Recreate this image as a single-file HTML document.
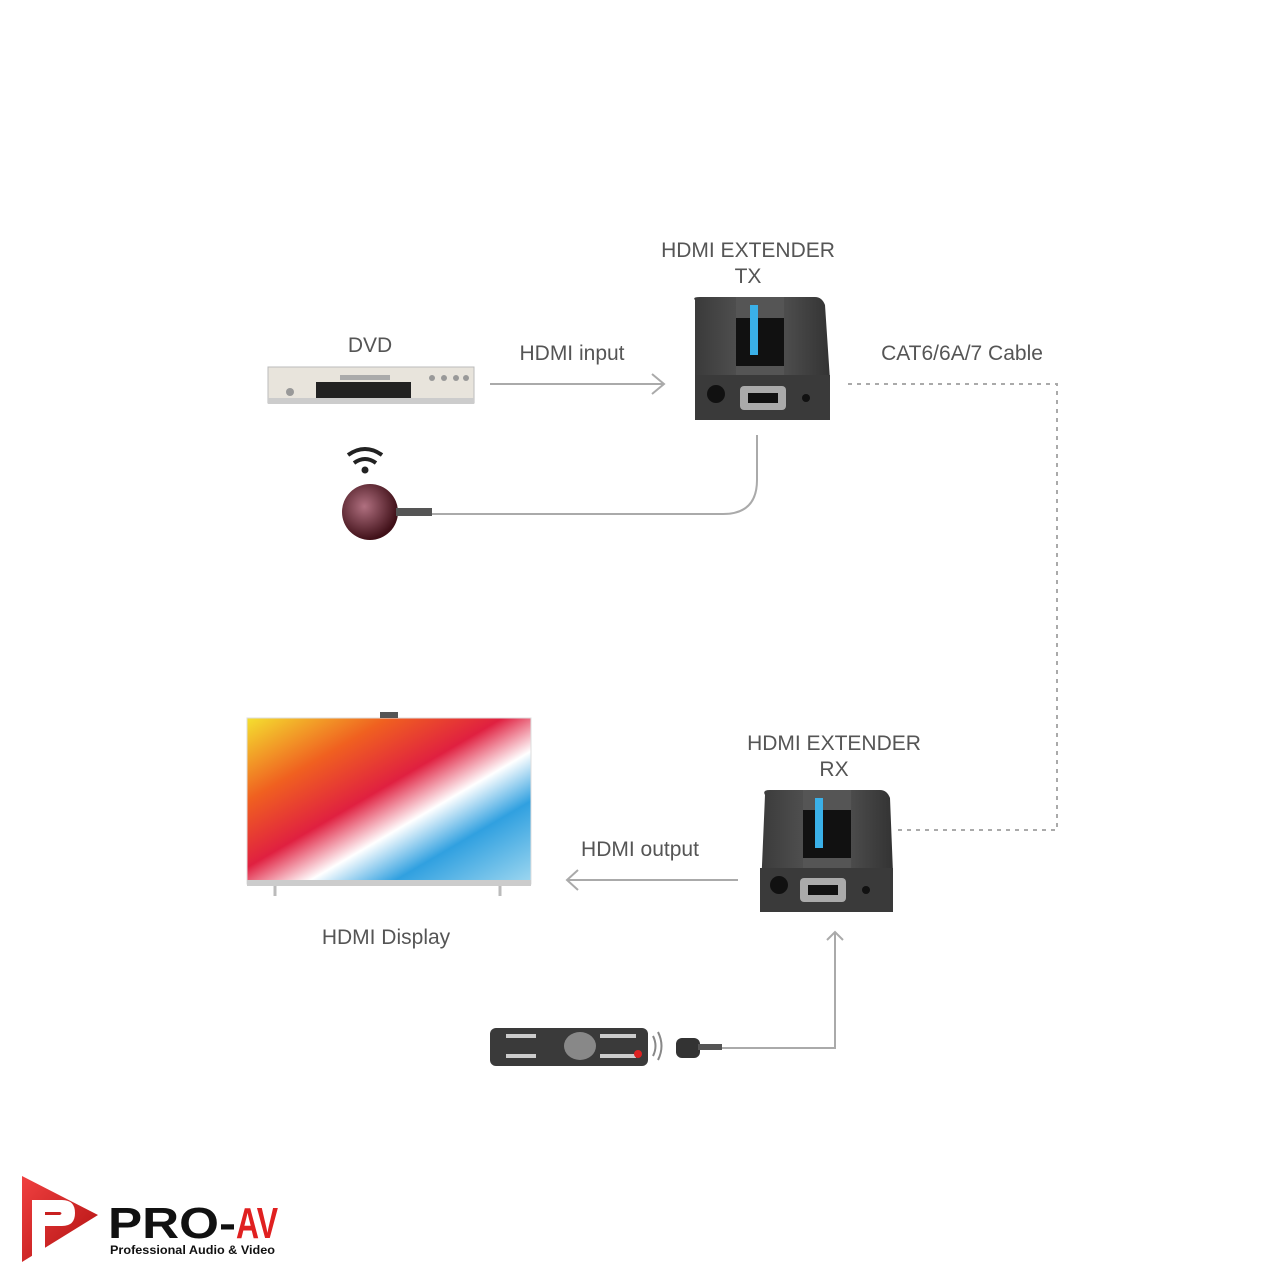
<!DOCTYPE html>
<html><head><meta charset="utf-8"><style>
html,body{margin:0;padding:0;background:#fff;width:1280px;height:1280px;overflow:hidden}
svg{position:absolute;left:0;top:0}
text{font-family:"Liberation Sans",sans-serif}
</style></head><body>
<svg width="1280" height="1280" viewBox="0 0 1280 1280">
<defs>
<linearGradient id="dev" x1="0" y1="0" x2="1" y2="0"><stop offset="0" stop-color="#3a3a3a"/><stop offset="0.5" stop-color="#5a5a5a"/><stop offset="1" stop-color="#333"/></linearGradient>
<linearGradient id="tv" x1="0" y1="0" x2="1" y2="1"><stop offset="0" stop-color="#f4e030"/><stop offset="0.25" stop-color="#f06020"/><stop offset="0.45" stop-color="#e02040"/><stop offset="0.6" stop-color="#fff"/><stop offset="0.75" stop-color="#30a0e0"/><stop offset="1" stop-color="#a0d8f0"/></linearGradient>
<linearGradient id="logo" x1="0" y1="0" x2="1" y2="1"><stop offset="0" stop-color="#f04040"/><stop offset="1" stop-color="#b01010"/></linearGradient>
<radialGradient id="ball" cx="0.4" cy="0.4" r="0.6"><stop offset="0" stop-color="#b07080"/><stop offset="1" stop-color="#401018"/></radialGradient>
</defs>
<!-- labels -->
<g fill="#555" font-size="21">
<text x="748" y="257" text-anchor="middle">HDMI EXTENDER</text>
<text x="748" y="283" text-anchor="middle">TX</text>
<text x="370" y="352" text-anchor="middle">DVD</text>
<text x="572" y="360" text-anchor="middle">HDMI input</text>
<text x="962" y="360" text-anchor="middle">CAT6/6A/7 Cable</text>
<text x="834" y="750" text-anchor="middle">HDMI EXTENDER</text>
<text x="834" y="776" text-anchor="middle">RX</text>
<text x="640" y="856" text-anchor="middle">HDMI output</text>
<text x="386" y="944" text-anchor="middle">HDMI Display</text>
</g>
<!-- connectors -->
<g stroke="#aaa" stroke-width="2" fill="none">
<line x1="490" y1="384" x2="664" y2="384"/><polyline points="652,374 664,384 652,394"/>
<path d="M757 435 V480 Q757 514 723 514 H430"/>
<line x1="738" y1="880" x2="567" y2="880"/><polyline points="578,870 567,880 578,890"/>
<path d="M835 932 V1048 H720"/><polyline points="827,940 835,932 843,940"/>
<path d="M848 384 H1057 V830 H896" stroke-dasharray="4,5"/>
</g>
<!-- DVD -->
<rect x="268" y="367" width="206" height="36" fill="#e8e4dc" stroke="#bbb"/>
<rect x="268" y="398" width="206" height="6" fill="#ccc"/>
<rect x="316" y="382" width="95" height="16" fill="#222"/>
<rect x="340" y="375" width="50" height="5" fill="#aaa"/>
<circle cx="290" cy="392" r="4" fill="#999"/>
<g fill="#999"><circle cx="432" cy="378" r="3"/><circle cx="444" cy="378" r="3"/><circle cx="456" cy="378" r="3"/><circle cx="466" cy="378" r="3"/></g>
<!-- IR receiver -->
<circle cx="370" cy="512" r="28" fill="url(#ball)"/>
<rect x="396" y="508" width="36" height="8" fill="#555"/>
<g fill="none" stroke="#222" stroke-width="4"><path d="M348 455 Q365 443 382 455"/><path d="M354 463 Q365 455 376 463"/></g>
<circle cx="365" cy="470" r="3.5" fill="#222"/>
<!-- TX device -->
<g>
<path d="M695 300 Q692 297 700 297 H815 Q822 297 825 305 L830 380 V418 H695 Z" fill="url(#dev)"/>
<rect x="736" y="297" width="48" height="80" fill="#555"/>
<rect x="736" y="318" width="48" height="48" fill="#111"/>
<rect x="750" y="305" width="8" height="50" fill="#3ab0e8"/>
<rect x="695" y="375" width="135" height="45" fill="#3a3a3a"/>
<circle cx="716" cy="394" r="9" fill="#111"/>
<rect x="740" y="386" width="46" height="24" rx="4" fill="#aaa"/><rect x="748" y="393" width="30" height="10" fill="#111"/>
<circle cx="806" cy="398" r="4" fill="#111"/>
</g>
<!-- RX device -->
<g>
<path d="M765 795 Q762 790 770 790 H880 Q887 790 890 798 L893 873 V912 H760 Z" fill="url(#dev)"/>
<rect x="803" y="790" width="48" height="80" fill="#555"/>
<rect x="803" y="810" width="48" height="48" fill="#111"/>
<rect x="815" y="798" width="8" height="50" fill="#3ab0e8"/>
<rect x="760" y="868" width="133" height="44" fill="#3a3a3a"/>
<circle cx="779" cy="885" r="9" fill="#111"/>
<rect x="800" y="878" width="46" height="24" rx="4" fill="#aaa"/><rect x="808" y="885" width="30" height="10" fill="#111"/>
<circle cx="866" cy="890" r="4" fill="#111"/>
</g>
<!-- TV -->
<rect x="247" y="718" width="284" height="166" fill="url(#tv)" stroke="#ddd"/>
<rect x="247" y="880" width="284" height="6" fill="#ccc"/>
<rect x="380" y="712" width="18" height="6" fill="#555"/>
<line x1="275" y1="886" x2="275" y2="896" stroke="#bbb" stroke-width="3"/>
<line x1="500" y1="886" x2="500" y2="896" stroke="#bbb" stroke-width="3"/>
<!-- Remote -->
<rect x="490" y="1028" width="158" height="38" rx="6" fill="#3a3a3a"/>
<ellipse cx="580" cy="1046" rx="16" ry="14" fill="#888"/>
<g fill="#ccc"><rect x="506" y="1034" width="30" height="4"/><rect x="600" y="1034" width="36" height="4"/><rect x="506" y="1054" width="30" height="4"/><rect x="600" y="1054" width="36" height="4"/></g>
<circle cx="638" cy="1054" r="4" fill="#d22"/>
<g fill="none" stroke="#888" stroke-width="2"><path d="M653 1036 Q658 1046 653 1056"/><path d="M658 1032 Q665 1046 658 1060"/></g>
<rect x="676" y="1038" width="24" height="20" rx="6" fill="#333"/>
<rect x="698" y="1044" width="24" height="6" fill="#555"/>
<!-- Logo -->
<path d="M22 1176 L98 1215 L22 1262 Z" fill="url(#logo)"/>
<path d="M32 1200 H62 Q75 1200 75 1213 Q75 1226 62 1226 H45 V1256 H32 Z" fill="#fff"/>
<path d="M45 1212 H60 Q63 1213 60 1215 H45 Z" fill="#c82020"/>
<text x="108" y="1238" font-size="44" font-weight="bold" fill="#111" textLength="128" lengthAdjust="spacingAndGlyphs">PRO-</text>
<text x="236" y="1238" font-size="44" font-weight="bold" fill="#e02020" textLength="42" lengthAdjust="spacingAndGlyphs">AV</text>
<text x="110" y="1254" font-size="12" font-weight="bold" fill="#111" textLength="165" lengthAdjust="spacingAndGlyphs">Professional Audio &amp; Video</text>
</svg>
</body></html>
